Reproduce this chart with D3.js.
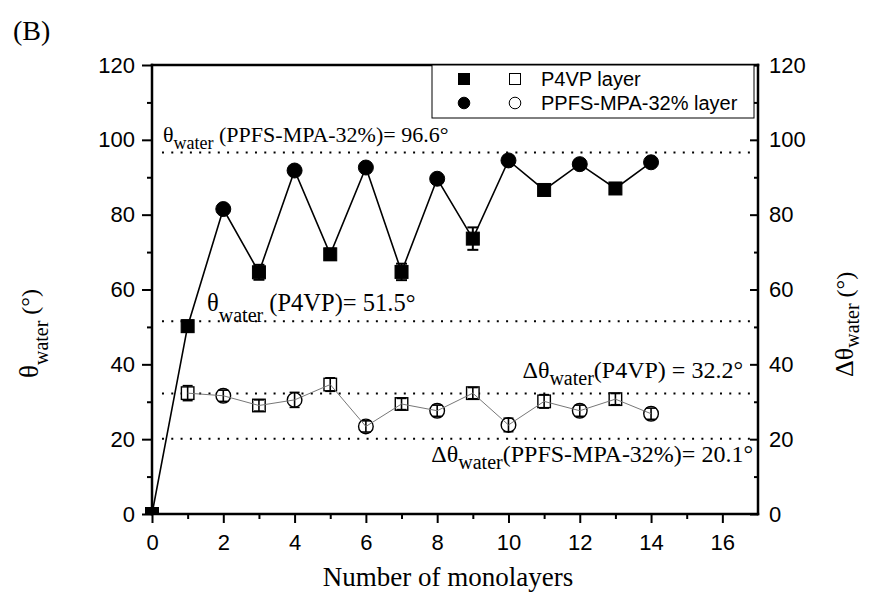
<!DOCTYPE html>
<html><head><meta charset="utf-8">
<script src="https://cdn.jsdelivr.net/npm/d3@7"></script>
<style>body{margin:0;background:#fff}</style>
</head><body>
<svg id="chart" width="869" height="602"></svg>
<script>
// ---- data ----
const layers      = [0,1,2,3,4,5,6,7,8,9,10,11,12,13,14];
const layerType   = ["P4VP","P4VP","PPFS","P4VP","PPFS","P4VP","PPFS","P4VP","PPFS","P4VP","PPFS","P4VP","PPFS","P4VP","PPFS"];
const thetaWater  = [0,50.2,81.5,64.6,91.8,69.4,92.6,64.7,89.6,73.6,94.5,86.6,93.5,87.0,94.0];
const thetaErr    = [0.5,1.5,1.0,2.0,1.0,1.5,1.0,2.2,1.0,3.0,1.0,1.2,1.0,1.2,1.0];
const deltaLayers = [1,2,3,4,5,6,7,8,9,10,11,12,13,14];
const deltaType   = ["P4VP","PPFS","P4VP","PPFS","P4VP","PPFS","P4VP","PPFS","P4VP","PPFS","P4VP","PPFS","P4VP","PPFS"];
const deltaTheta  = [32.3,31.6,29.0,30.5,34.6,23.4,29.4,27.6,32.3,23.8,30.1,27.6,30.7,26.8];
const deltaErr    = [2.0,1.5,1.5,2.0,1.8,1.5,1.5,1.5,1.5,1.8,1.8,1.5,1.5,1.5];
const refValues   = [96.6,51.5,32.2,20.1];
const refExtent   = [0.28,16.9];
const xTicks = [0,2,4,6,8,10,12,14,16];
const xMinor = [1,3,5,7,9,11,13,15];
const yTicks = [0,20,40,60,80,100,120];
const yMinor = [10,30,50,70,90,110];
const legendLabels = ["P4VP layer","PPFS-MPA-32% layer"];

// ---- layout ----
const svg = d3.select("#chart");
const L = 152, R = 758, T = 65, B = 514;
const x = d3.scaleLinear().domain([0,17]).range([L,R]);
const y = d3.scaleLinear().domain([0,120]).range([B,T]);
const serif = "'Liberation Serif','Times New Roman',serif";
const sans = "'Liberation Sans',Arial,sans-serif";

function styleAxis(g, fs){
  g.selectAll("text").style("font-family", sans).style("font-size", fs+"px").attr("fill","#000");
  g.selectAll(".tick line").attr("stroke","#000").attr("stroke-width",2);
  g.select(".domain").remove();
}
svg.append("g").attr("transform",`translate(${L},0)`)
  .call(d3.axisLeft(y).tickValues(yTicks).tickSize(10).tickPadding(7).tickSizeOuter(0))
  .call(g=>styleAxis(g,22));
svg.append("g").attr("transform",`translate(${L},0)`)
  .call(d3.axisLeft(y).tickValues(yMinor).tickSize(5).tickFormat("").tickSizeOuter(0))
  .call(g=>styleAxis(g,22));
svg.append("g").attr("transform",`translate(${R},0)`)
  .call(d3.axisRight(y).tickValues(yTicks).tickSize(-8).tickPadding(11).tickSizeOuter(0))
  .call(g=>styleAxis(g,22));
svg.append("g").attr("transform",`translate(${R},0)`)
  .call(d3.axisRight(y).tickValues(yMinor).tickSize(-4).tickFormat("").tickSizeOuter(0))
  .call(g=>styleAxis(g,22));
svg.append("g").attr("transform",`translate(0,${B})`)
  .call(d3.axisBottom(x).tickValues(xTicks).tickSize(9).tickPadding(11).tickSizeOuter(0))
  .call(g=>styleAxis(g,22));
svg.append("g").attr("transform",`translate(0,${B})`)
  .call(d3.axisBottom(x).tickValues(xMinor).tickSize(5).tickFormat("").tickSizeOuter(0))
  .call(g=>styleAxis(g,22));

// reference dotted lines
svg.append("g").selectAll("line").data(refValues).join("line")
  .attr("x1", x(refExtent[0])).attr("x2", x(refExtent[1]))
  .attr("y1", d=>y(d)).attr("y2", d=>y(d))
  .attr("stroke","#000").attr("stroke-width",2).attr("stroke-dasharray","2,7.3");

svg.append("clipPath").attr("id","clipPlot").append("rect")
  .attr("x", L-20).attr("y", T-20).attr("width", R-L+40).attr("height", B-T+20);

// upper series
const upper = layers.map((d,i)=>({x:d, v:thetaWater[i], e:thetaErr[i], t:layerType[i]}));
const gU = svg.append("g").attr("clip-path","url(#clipPlot)");
gU.append("path").datum(upper)
  .attr("d", d3.line().x(d=>x(d.x)).y(d=>y(d.v)))
  .attr("fill","none").attr("stroke","#000").attr("stroke-width",1.6);
function errBars(g, data, w, sw){
  const eg = g.append("g").attr("stroke","#000").attr("stroke-width",sw);
  data.forEach(d=>{
    eg.append("line").attr("x1",x(d.x)).attr("x2",x(d.x)).attr("y1",y(d.v-d.e)).attr("y2",y(d.v+d.e));
    [d.v-d.e, d.v+d.e].forEach(v=>eg.append("line").attr("x1",x(d.x)-w/2).attr("x2",x(d.x)+w/2).attr("y1",y(v)).attr("y2",y(v)));
  });
}
errBars(gU, upper, 11, 2);
function markers(g, data, filled, sq, cr, sw){
  g.selectAll(null).data(data.filter(d=>d.t==="P4VP")).join("rect")
    .attr("x",d=>x(d.x)-sq/2).attr("y",d=>y(d.v)-sq/2).attr("width",sq).attr("height",sq)
    .attr("fill", filled?"#000":"#fff").attr("stroke","#000").attr("stroke-width",sw);
  g.selectAll(null).data(data.filter(d=>d.t==="PPFS")).join("circle")
    .attr("cx",d=>x(d.x)).attr("cy",d=>y(d.v)).attr("r",cr)
    .attr("fill", filled?"#000":"#fff").attr("stroke","#000").attr("stroke-width",sw);
}
markers(gU, upper, true, 13, 7.5, 1);

// lower series
const lower = deltaLayers.map((d,i)=>({x:d, v:deltaTheta[i], e:deltaErr[i], t:deltaType[i]}));
const gL = svg.append("g");
markers(gL, lower, false, 12.5, 7.3, 1.4);
errBars(gL, lower, 10, 1.6);
gL.append("path").datum(lower)
  .attr("d", d3.line().x(d=>x(d.x)).y(d=>y(d.v)))
  .attr("fill","none").attr("stroke","#777").attr("stroke-width",1);

// frame
[[L,R,T,T],[L,R,B,B],[L,L,T,B],[R,R,T,B]].forEach(([x1,x2,y1,y2])=>
  svg.append("line").attr("x1",x1).attr("x2",x2).attr("y1",y1).attr("y2",y2)
    .attr("stroke","#000").attr("stroke-width",2.5).attr("stroke-linecap","square"));

// legend
const lg = svg.append("g");
lg.append("rect").attr("x",432).attr("y",T).attr("width",322).attr("height",53)
  .attr("fill","#fff").attr("stroke","#000").attr("stroke-width",1);
const rowsY = [79,103];
legendLabels.forEach((lab,i)=>{
  const cy = rowsY[i];
  [[464,true],[515,false]].forEach(([cx,f])=>{
    if(i===0) lg.append("rect").attr("x",cx-5.5).attr("y",cy-5.5).attr("width",11).attr("height",11)
        .attr("fill",f?"#000":"#fff").attr("stroke","#000").attr("stroke-width",1);
    else lg.append("circle").attr("cx",cx).attr("cy",cy).attr("r",5.8)
        .attr("fill",f?"#000":"#fff").attr("stroke","#000").attr("stroke-width",1);
  });
  lg.append("text").attr("x",541).attr("y",cy+7).text(lab)
    .style("font-family",sans).style("font-size","20px");
});

// annotations
function annot(xp, yp, pre, sub, post, fs, sfs, dy, anchor){
  const t = svg.append("text").attr("x",xp).attr("y",yp).attr("text-anchor",anchor||"start")
    .style("font-family",serif).style("font-size",fs+"px");
  t.append("tspan").text(pre);
  t.append("tspan").attr("dy",dy).style("font-size",sfs+"px").text(sub);
  t.append("tspan").attr("dy",-dy).text(post);
  return t;
}
annot(163, y(refValues[0])-11, "θ", "water", " (PPFS-MPA-32%)= 96.6°", 22, 18, 7);
annot(207, y(refValues[1])-10, "θ", "water", " (P4VP)= 51.5°", 24.5, 20, 11);
annot(743, y(refValues[2])-15.5, "Δθ", "water", "(P4VP) = 32.2°", 24, 20, 7, "end");
annot(753, y(refValues[3])+23, "Δθ", "water", "(PPFS-MPA-32%)= 20.1°", 24, 20, 7, "end");

// titles
svg.append("text").attr("x",13).attr("y",40).text("(B)")
  .style("font-family",serif).style("font-size","28px");
svg.append("text").attr("x",(L+R)/2 - 7).attr("y",586).attr("text-anchor","middle").text("Number of monolayers")
  .style("font-family",serif).style("font-size","27px");
const ly = svg.append("text").attr("transform","translate(38,378) rotate(-90)")
  .style("font-family",serif).style("font-size","24px");
ly.append("tspan").style("font-size","27px").text("θ");
ly.append("tspan").attr("dy",10).style("font-size","20px").text("water");
ly.append("tspan").attr("dy",-10).text(" (°)");
const ry = svg.append("text").attr("transform","translate(853,377) rotate(-90)")
  .style("font-family",serif).style("font-size","24px");
ry.append("tspan").style("font-size","26px").text("Δθ");
ry.append("tspan").attr("dy",6).style("font-size","20px").text("water");
ry.append("tspan").attr("dy",-6).text(" (°)");
</script>
</body></html>
